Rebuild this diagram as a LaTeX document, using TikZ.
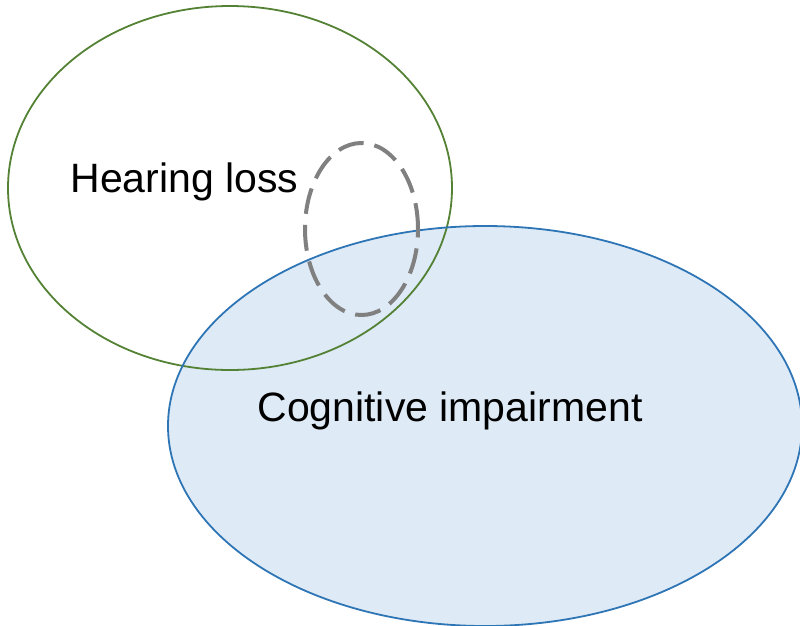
\documentclass[tikz,border=0pt]{standalone}
\usepackage{fontspec}
\setmainfont{Liberation Sans}
\usetikzlibrary{shapes.geometric}
\definecolor{hgreen}{HTML}{548235}
\definecolor{cblue}{HTML}{2E75B6}
\definecolor{cfill}{HTML}{DEEAF6}
\definecolor{dgray}{HTML}{808080}
\tikzset{
  oval/.style={ellipse, inner sep=0pt, outer sep=0pt},
  lbl/.style={font=\fontsize{41}{49}\selectfont, text=black, inner sep=0pt}
}
\begin{document}
\begin{tikzpicture}[x=1pt,y=-1pt]
\useasboundingbox (0,0) rectangle (800,625);
\node[oval, fill=cfill, minimum width=634pt, minimum height=400pt] (cogfill) at (485,426) {};
\node[oval, draw=hgreen, line width=1.8pt, minimum width=444pt, minimum height=364pt] (hear) at (230,188) {};
\node[oval, draw=cblue, line width=1.8pt, minimum width=634pt, minimum height=400pt] (cog) at (485,426) {};
\node[oval, draw=dgray, line width=4pt, dash pattern=on 26pt off 11pt, minimum width=113pt, minimum height=172pt] (overlap) at (361.5,229) {};
\node[lbl] (hl) at (184.5,182) {Hearing loss};
\node[lbl] (ci) at (450,411) {Cognitive impairment};
\end{tikzpicture}
\end{document}
